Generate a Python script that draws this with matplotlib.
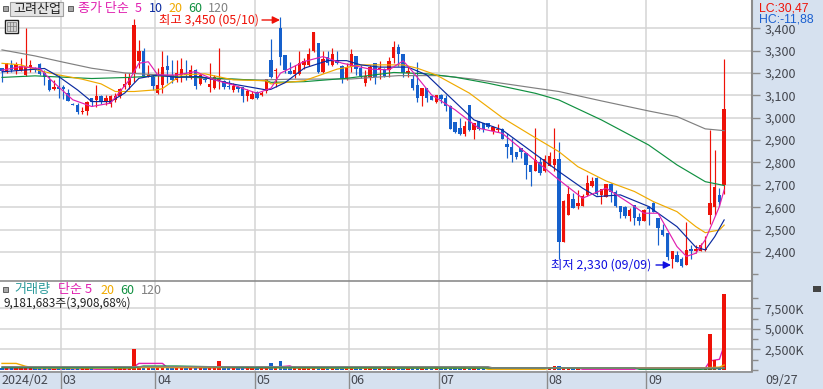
import matplotlib
matplotlib.use("Agg")
import matplotlib.pyplot as plt
from matplotlib.patches import Rectangle

plt.rcParams['font.family'] = ['Noto Sans CJK KR', 'DejaVu Sans']

# Each candle: open, high, low, close (KRW), in trading-day order
candles = [
 (3220,3222,3160,3210),(3205,3245,3200,3245),(3235,3260,3205,3215),(3215,3250,3195,3240),(3215,3265,3210,3230),
 (3190,3400,3185,3230),(3220,3260,3205,3235),(3220,3225,3205,3215),(3240,3245,3190,3195),(3200,3215,3145,3180),
 (3170,3185,3120,3125),(3130,3170,3125,3135),(3135,3190,3090,3127),(3135,3145,3085,3130),(3110,3130,3075,3075),
 (3062,3065,3055,3058),(3055,3065,3018,3027),(3025,3047,3017,3030),(3032,3075,3012,3070),(3088,3090,3050,3072),
 (3080,3145,3047,3095),(3095,3103,3060,3075),(3073,3103,3057,3090),(3062,3103,3047,3095),(3080,3110,3072,3097),
 (3097,3132,3090,3127),(3137,3200,3127,3150),(3145,3200,3127,3177),(3195,3440,3160,3415),(3255,3348,3220,3300),
 (3300,3313,3185,3187),(3185,3235,3180,3190),(3180,3190,3125,3142),(3112,3220,3105,3148),(3147,3298,3112,3228),
 (3232,3280,3153,3213),(3190,3260,3153,3168),(3168,3260,3160,3200),(3190,3265,3160,3217),(3195,3260,3170,3192),
 (3180,3235,3175,3213),(3213,3217,3130,3140),(3150,3198,3145,3190),(3172,3180,3160,3168),(3135,3243,3117,3150),
 (3132,3190,3130,3183),(3170,3310,3127,3177),(3165,3170,3130,3137),(3143,3170,3130,3137),(3125,3155,3117,3142),
 (3135,3140,3115,3130),(3135,3135,3068,3097),(3097,3130,3075,3120),(3085,3120,3082,3108),(3115,3120,3085,3090),
 (3103,3120,3095,3110),(3120,3175,3112,3172),(3258,3350,3176,3181),(3208,3221,3139,3210),(3400,3450,3236,3273),
 (3281,3281,3199,3211),(3209,3251,3196,3196),(3196,3236,3176,3214),(3196,3296,3191,3244),(3236,3266,3217,3255),
 (3236,3311,3229,3285),(3296,3384,3293,3381),(3333,3333,3199,3206),(3206,3296,3199,3261),(3273,3296,3236,3246),
 (3236,3311,3229,3285),(3255,3299,3240,3244),(3232,3236,3157,3172),(3176,3244,3169,3226),(3228,3306,3202,3285),
 (3276,3276,3191,3217),(3221,3236,3176,3188),(3157,3214,3142,3187),(3184,3236,3169,3226),(3246,3246,3151,3181),
 (3211,3254,3172,3221),(3217,3221,3184,3187),(3211,3273,3184,3254),(3266,3343,3244,3314),(3314,3328,3229,3284),
 (3284,3284,3184,3199),(3199,3229,3181,3209),(3174,3196,3124,3132),(3147,3251,3072,3087),(3097,3132,3050,3132),
 (3132,3132,3072,3090),(3095,3102,3077,3077),(3068,3102,3067,3100),(3100,3106,3065,3084),(3087,3102,3030,3050),
 (3053,3055,2950,2950),(2980,2982,2930,2938),(2956,3000,2923,2928),(2927,2983,2919,2965),(3057,3057,2940,2945),
 (2943,2975,2904,2975),(2986,2986,2945,2950),(2978,2978,2938,2948),(2975,2977,2955,2957),(2940,2963,2925,2960),
 (2945,2970,2935,2950),(2950,2952,2904,2904),(2883,2931,2819,2867),(2871,2909,2800,2831),(2846,2846,2816,2824),
 (2864,2864,2822,2845),(2842,2842,2727,2787),(2790,2790,2696,2758),(2760,2953,2760,2812),(2803,2823,2745,2752),
 (2760,2833,2755,2815),(2785,2845,2785,2830),(2788,2955,2760,2815),(2815,2893,2367,2445),(2445,2632,2445,2628),
 (2565,2695,2565,2660),(2637,2662,2598,2598),(2603,2677,2590,2617),(2607,2660,2603,2652),(2655,2745,2650,2707),
 (2695,2733,2690,2717),(2730,2733,2655,2658),(2655,2680,2615,2680),(2647,2705,2645,2702),(2703,2707,2625,2667),
 (2670,2678,2600,2603),(2605,2605,2550,2580),(2602,2605,2550,2562),(2560,2595,2540,2588),(2610,2610,2520,2550),
 (2557,2572,2520,2540),(2540,2590,2538,2588),(2600,2603,2520,2594),(2618,2625,2578,2580),(2550,2550,2431,2509),
 (2498,2525,2470,2476),(2483,2483,2365,2376),(2367,2406,2330,2405),(2387,2402,2357,2357),(2367,2376,2332,2335),
 (2342,2535,2342,2410),(2412,2432,2367,2403),(2402,2430,2395,2413),(2405,2442,2402,2432),(2408,2472,2405,2412),
 (2565,2945,2525,2618),(2600,2855,2565,2690),(2655,2685,2605,2625),(2700,3263,2660,3040),
]

# Volume per candle (thousand shares)
volume = [
 200,210,190,220,230,300,200,190,210,200,190,180,210,200,190,180,200,210,190,200,
 60,60,60,60,220,200,230,340,2600,500,320,260,240,280,250,230,240,270,250,220,
 240,230,200,210,250,230,1100,300,230,260,210,220,200,210,250,210,230,800,270,1100,
 320,240,250,270,230,210,250,230,220,240,290,210,200,250,210,220,200,210,230,200,
 220,210,200,220,210,200,210,200,220,210,200,190,200,210,200,210,190,200,210,190,
 200,210,190,60,60,60,60,60,60,60,60,60,60,60,60,60,200,450,450,220,
 200,190,200,60,60,60,60,60,60,60,60,60,60,60,60,60,60,60,60,60,
 60,60,60,60,60,60,60,60,60,160,4370,1215,400,9181,
]

month_starts = [14, 34, 55, 75, 94, 117, 138]
month_labels = ['03', '04', '05', '06', '07', '08', '09']

ma120_x = [1,8,14,20,27,35,45,55,62,75,85,94,101,114,119,128,138,144,150,154]
ma120_y = [3303,3276,3248,3221,3200,3190,3175,3168,3172,3173,3188,3188,3172,3132,3117,3075,3030,3005,2950,2942]
ma60_x = [1,8,20,28,34,46,57,58,65,74,84,91,97,104,114,119,128,138,144,150,154]
ma60_y = [3180,3187,3175,3180,3187,3177,3165,3158,3161,3176,3202,3196,3181,3154,3109,3079,2990,2878,2789,2714,2697]
ma20_x = [1,5,9,13,18,22,25,29,34,35,39,44,50,57,58,65,72,77,86,89,93,100,107,113,119,123,129,135,139,144,148,150,153,154]
ma20_y = [3243,3236,3210,3191,3172,3151,3117,3117,3125,3130,3191,3196,3169,3165,3151,3165,3217,3236,3236,3221,3191,3110,3000,2923,2848,2781,2717,2670,2625,2580,2513,2486,2498,2520]
ma10_x = [1,10,13,17,20,24,27,30,34,38,43,50,57,58,61,65,70,74,77,81,87,91,95,101,107,119,124,127,132,138,141,144,148,150,152,154]
ma10_y = [3205,3220,3184,3124,3072,3072,3110,3176,3191,3180,3184,3150,3124,3127,3157,3221,3255,3255,3236,3226,3226,3191,3110,2990,2945,2759,2685,2647,2655,2603,2558,2513,2421,2409,2468,2543]
ma5_x = [1,5,9,11,16,20,24,28,30,32,34,38,42,46,50,55,58,60,65,69,73,79,83,86,88,92,97,102,107,119,124,129,134,137,140,144,146,148,150,153,154]
ma5_y = [3212,3228,3220,3176,3080,3050,3065,3169,3243,3250,3191,3191,3206,3169,3146,3109,3132,3199,3251,3273,3244,3217,3214,3254,3206,3102,3035,2953,2930,2722,2640,2685,2617,2573,2573,2424,2380,2394,2454,2603,2677]

vma5_x = [1,20,21,24,25,28,29,30,35,36,46,47,48,49,57,60,62,63,103,104,116,123,124,135,136,149,150,151,153,154]
vma5_y = [130,130,90,90,130,130,400,800,800,300,250,350,350,250,200,400,500,250,250,250,250,250,90,90,250,250,220,1100,1300,3000]
vma20_x = [1,4,6,8,28,30,50,70,103,104,116,117,149,153,154]
vma20_y = [800,800,450,250,250,300,300,250,250,90,90,250,250,350,600]
vma60_x = [1,29,31,38,45,55,100,135,136,149,150,154]
vma60_y = [280,280,480,480,400,300,250,250,90,90,120,200]
vma120_x = [1,104,105,150,154]
vma120_y = [400,400,250,250,260]

price_ticks = list(range(2400, 3500, 100))
vol_ticks = [2500, 5000, 7500]
vol_tick_labels = ['2,500K', '5,000K', '7,500K']

RED, BLUE = '#EE1208', '#1560CC'
GRID = '#D4D4D4'
PANEL = '#D6E1EF'
AXC = '#8C8C8C'
TXT = '#44474F'
MAG, NAVY, ORG, GRN, GRY = '#E020B0', '#0A2AA0', '#F0AA00', '#109040', '#808080'

W, H = 823, 389
fig = plt.figure(figsize=(W / 100, H / 100), dpi=100, facecolor=PANEL)

def place(left, top, right, bottom):
    return [left / W, 1 - bottom / H, (right - left) / W, (bottom - top) / H]

ax = fig.add_axes(place(0, 0, 752, 281))
av = fig.add_axes(place(0, 281, 752, 371))
ov = fig.add_axes([0, 0, 1, 1], zorder=10)
ov.set_xlim(0, W); ov.set_ylim(H, 0); ov.axis('off'); ov.patch.set_alpha(0)

xlim = (0.576, 159.9)
idx = list(range(1, len(candles) + 1))
month_pos = [m - 0.5 for m in month_starts]

for a in (ax, av):
    a.set_xlim(*xlim)
    a.set_facecolor('white')
    for s in a.spines.values():
        s.set_visible(False)
    a.spines['right'].set_visible(True)
    a.spines['right'].set_color(AXC)
    a.spines['right'].set_linewidth(1.5)
    a.yaxis.tick_right()
    a.set_axisbelow(True)
    a.grid(True, color=GRID, lw=1.1)
    a.set_xticks(month_pos)
    a.tick_params(axis='y', which='major', length=6, width=1, color=AXC,
                  labelcolor=TXT, labelsize=9, pad=3)
    a.tick_params(axis='y', which='minor', length=4, width=1, color=AXC)

# price panel
ax.set_ylim(2270, 3526)
ax.set_yticks(price_ticks)
ax.set_yticklabels([f'{p:,}' for p in price_ticks])
ax.set_yticks([p + 50 for p in range(2250, 3450, 100)], minor=True)
ax.tick_params(axis='x', length=0, labelbottom=False)

for i, (o, h, l, c) in zip(idx, candles):
    col = RED if c >= o else BLUE
    ax.vlines(i, l, h, color=col, lw=0.85, zorder=3)
    ax.bar(i, max(abs(c - o), 5), bottom=min(o, c), width=0.72, color=col, lw=0, zorder=3)

for xs, ys, col in [(ma120_x, ma120_y, GRY), (ma60_x, ma60_y, GRN), (ma20_x, ma20_y, ORG),
                    (ma10_x, ma10_y, NAVY), (ma5_x, ma5_y, MAG)]:
    ax.plot(xs, ys, color=col, lw=0.85, zorder=4)

# volume panel
av.set_ylim(-120, 10800)
av.set_yticks(vol_ticks)
av.set_yticklabels(vol_tick_labels)
av.set_yticks([1250, 3750, 6250, 8750, 0], minor=True)
av.bar(idx, volume, width=0.72, color=[RED if c >= o else BLUE for o, h, l, c in candles], lw=0, zorder=3)
for xs, ys, col, z in [(vma5_x, vma5_y, MAG, 2.5), (vma20_x, vma20_y, ORG, 3.2),
                       (vma60_x, vma60_y, GRN, 3.3), (vma120_x, vma120_y, GRY, 3.4)]:
    av.plot(xs, ys, color=col, lw=1.0, zorder=z)

# date strip
av.tick_params(axis='x', direction='out', length=13, width=1, color=AXC, labelbottom=False)
trans = av.get_xaxis_transform()
for pos, lab in zip(month_pos, month_labels):
    av.annotate(lab, xy=(pos, 0), xycoords=trans, xytext=(1.2, -2.5), textcoords='offset points',
                va='top', ha='left', fontsize=9, color=TXT)
av.annotate('2024/02', xy=(xlim[0], 0), xycoords=trans, xytext=(1.2, -2.5), textcoords='offset points',
            va='top', ha='left', fontsize=9, color=TXT, annotation_clip=False)
av.annotate('09/27', xy=(1, 0), xycoords='axes fraction', xytext=(9.5, -2.5), textcoords='offset points',
            va='top', ha='left', fontsize=9, color=TXT, annotation_clip=False)

# panel separators
ov.plot([0, 752], [281, 281], color=AXC, lw=1.2)
ov.plot([0, 752], [371.5, 371.5], color=AXC, lw=1.2)

# header
def square(x, y, s=5):
    ov.add_patch(Rectangle((x, y), s, s, fc='#A8A8A8', ec='#606060', lw=0.7))

def label(x, y, s, color, size=9.0):
    ov.text(x, y, s, color=color, fontsize=size, va='center', ha='left')

square(3, 6, 5)
ov.add_patch(Rectangle((10.5, 2), 53, 14, fc='#E4E4E4', ec='#A0A0A0', lw=0.8))
ov.text(37, 9, '고려산업', color='#222222', fontsize=9.4, va='center', ha='center')
square(68, 6, 5)
label(78, 8, '종가 단순', MAG, 9.4)
label(135, 8, '5', MAG)
label(149, 8, '10', NAVY)
label(168, 8, '20', ORG)
label(188, 8, '60', GRN)
label(208, 8, '120', GRY)

ov.add_patch(Rectangle((5.5, 19.5), 13, 13, fc='white', ec='#222222', lw=1))
ov.add_patch(Rectangle((7.5, 22), 9, 8.5, fc='#D0D0D0', ec='#777777', lw=0.5))
for gx in (10.5, 13.5):
    ov.plot([gx, gx], [22, 30.5], color='#777777', lw=0.5)
ov.plot([7.5, 16.5], [26, 26], color='#777777', lw=0.5)

label(159, 20, '최고 3,450 (05/10)', RED, 8.9)
ov.annotate('', xy=(280, 20), xytext=(262, 20),
            arrowprops=dict(arrowstyle='-|>', color=RED, lw=1, mutation_scale=11, shrinkA=0, shrinkB=0))
label(551, 265, '최저 2,330 (09/09)', '#1010E0', 8.9)
ov.annotate('', xy=(671, 265), xytext=(656, 265),
            arrowprops=dict(arrowstyle='-|>', color='#1010E0', lw=1, mutation_scale=11, shrinkA=0, shrinkB=0))

ov.text(759, 8, 'LC:30,47', color=RED, fontsize=8.8, va='center', ha='left', family='Liberation Sans')
ov.text(759, 19, 'HC:-11,88', color='#1A5FD0', fontsize=8.8, va='center', ha='left', family='Liberation Sans')

square(3, 287, 5)
label(14, 290, '거래량', '#2A9A9A', 9.4)
label(58, 290, '단순 5', MAG, 9.4)
label(100, 290, '20', ORG)
label(120, 290, '60', GRN)
label(141, 290, '120', GRY)
label(4, 303, '9,181,683주(3,908,68%)', '#222222', 8.5)

ov.add_patch(Rectangle((813, 286), 8, 6, fc='#444444', ec='none'))

fig.savefig('out.png', dpi=100, facecolor=PANEL)
